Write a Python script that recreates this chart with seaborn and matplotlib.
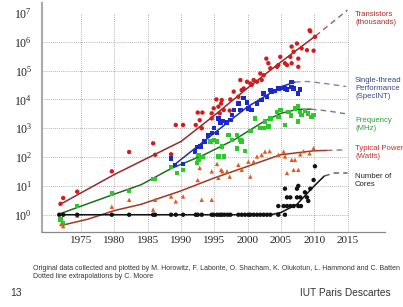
import matplotlib
matplotlib.use('Agg')
import matplotlib.pyplot as plt
import matplotlib.ticker as mticker
import seaborn as sns
import pandas as pd

# scatter data (year, value)
tr_year = [1971.9, 1972.3, 1974.4, 1979.6, 1982.2, 1985.8, 1986.1, 1988.5, 1989.2, 1990.3,
           1992.2, 1992.5, 1992.8, 1993.1, 1993.2, 1994.6, 1994.6, 1994.9, 1995.3, 1995.6,
           1995.8, 1996.0, 1996.1, 1996.4, 1997.3, 1997.4, 1997.9, 1998.6, 1998.9, 1999.1,
           1999.4, 1999.9, 2000.4, 2000.6, 2000.9, 2001.4, 2001.9, 2002.1, 2002.4, 2002.8,
           2003.1, 2003.4, 2004.4, 2004.6, 2004.9, 2005.6, 2005.9, 2006.4, 2006.6, 2006.6,
           2006.9, 2007.4, 2007.6, 2007.6, 2008.1, 2008.9, 2009.3, 2009.4, 2009.9, 2010.1]
tr_val = [2.4, 3.8, 6.3, 32, 150, 300, 120, 125, 1300, 1300,
          1300, 3500, 1900, 1000, 3500, 3300, 2200, 4900, 10000, 5600,
          3300, 7200, 9500, 4300, 4100, 10000, 18600, 12300, 47000, 21000,
          24000, 41000, 36000, 32000, 47000, 41000, 79000, 47000, 69000, 260000,
          180000, 120000, 135000, 155000, 300000, 180000, 155000, 300000, 680000, 180000,
          450000, 870000, 260000, 135000, 590000, 510000, 2500000, 2300000, 490000, 1480000]

st_year = [1988.5, 1989.1, 1990.3, 1992.1, 1992.4, 1992.9, 1993.5, 1994.0, 1994.6, 1994.9,
           1995.4, 1995.6, 1995.9, 1996.3, 1996.8, 1997.4, 1997.6, 1997.9, 1998.6, 1998.9,
           1999.4, 1999.9, 2000.1, 2000.6, 2001.4, 2002.1, 2002.4, 2002.9, 2003.4, 2003.6,
           2004.0, 2004.6, 2005.1, 2005.6, 2005.9, 2006.6, 2006.6, 2006.9, 2007.6, 2007.9]
st_val = [90, 54, 58, 155, 220, 230, 350, 560, 680, 1000,
          700, 2200, 1500, 1800, 1600, 1950, 2900, 4300, 7200, 4300,
          11000, 7900, 4900, 4300, 7200, 9500, 16000, 12300, 21000, 18600,
          20000, 24000, 25000, 24000, 22400, 41000, 27500, 24000, 16000, 22400]

fq_year = [1971.9, 1972.3, 1974.4, 1979.6, 1982.2, 1985.8, 1986.1, 1988.5, 1989.4, 1990.3,
           1992.4, 1992.6, 1992.6, 1993.2, 1994.4, 1994.9, 1995.4, 1995.6, 1996.1, 1996.4,
           1997.1, 1997.6, 1998.4, 1998.4, 1998.9, 1999.1, 1999.6, 2000.4, 2001.1, 2001.9,
           2002.4, 2002.6, 2003.1, 2003.4, 2004.4, 2004.6, 2004.9, 2005.6, 2006.1, 2006.5,
           2007.1, 2007.6, 2007.6, 2007.9, 2008.1, 2008.6, 2009.1, 2009.6, 2009.9]
fq_val = [0.68, 0.49, 2.0, 5.4, 6.8, 17, 17, 45, 28, 36,
          62, 120, 80, 100, 350, 400, 350, 105, 230, 105,
          590, 400, 590, 200, 400, 350, 160, 800, 2200, 1000,
          1000, 1700, 1150, 2200, 3700, 2500, 4300, 1300, 3700, 2800,
          4900, 5600, 1700, 3700, 2900, 4000, 3300, 2500, 2900]

pw_year = [1972.0, 1972.3, 1974.4, 1979.6, 1982.2, 1985.8, 1986.1, 1988.5, 1989.2, 1990.3,
           1992.5, 1992.8, 1993.1, 1994.6, 1994.6, 1995.4, 1995.6, 1996.0, 1996.2, 1996.9,
           1997.3, 1998.6, 1999.1, 2000.1, 2000.4, 2000.9, 2001.4, 2002.1, 2002.6, 2003.3,
           2004.6, 2005.4, 2005.6, 2005.9, 2006.6, 2006.9, 2007.1, 2007.6, 2007.9, 2008.4,
           2009.3, 2009.9]
pw_val = [0.48, 0.40, 0.93, 1.9, 3.3, 1.5, 3.3, 4.3, 2.9, 4.3,
          16, 42, 3.3, 3.3, 32, 58, 19, 36, 32, 32,
          21, 54, 36, 69, 21, 69, 105, 120, 155, 160,
          120, 155, 105, 28, 80, 36, 80, 36, 125, 160,
          135, 205]

co_year = [1971.7, 1972.3, 1974.4, 1979.6, 1982.2, 1985.8, 1986.1, 1988.5, 1989.2, 1990.3,
           1992.2, 1992.5, 1993.1, 1994.6, 1994.9, 1995.4, 1995.8, 1996.1, 1996.5, 1997.0,
           1997.4, 1998.6, 1999.1, 1999.6, 2000.1, 2000.4, 2000.9, 2001.4, 2001.9, 2002.4,
           2002.9, 2003.4, 2004.6, 2005.6, 2004.6, 2005.4, 2005.9, 2006.4, 2006.9, 2007.6,
           2008.0, 2005.9, 2006.4, 2007.4, 2007.9, 2008.9, 2008.6, 2005.6, 2007.4, 2007.6,
           2009.4, 2009.1, 2009.9, 2010.1]
co_val = [1, 1, 1, 1, 1, 1, 1, 1, 1, 1,
          1, 1, 1, 1, 1, 1, 1, 1, 1, 1,
          1, 1, 1, 1, 1, 1, 1, 1, 1, 1,
          1, 1, 1, 1, 2, 2, 2, 2, 2, 2,
          2, 4, 4, 4, 4, 4, 6, 8, 8, 10,
          8, 3, 16, 48]

# trend lines (solid fit) and dotted extrapolations, knots
tr_fit_year = [1971.7, 1980, 1990, 1995, 2000, 2005, 2010.2]
tr_fit_val = [2.2, 25, 350, 2800, 25000, 200000, 1600000]
tr_ext_year = [2010.2, 2015]
tr_ext_val = [1600000, 12600000]

st_fit_year = [1988.8, 1994, 2000, 2005, 2007.1]
st_fit_val = [50, 450, 5600, 27500, 40000]
st_ext_year = [2007.1, 2009, 2011.5, 2014.8]
st_ext_val = [40000, 42000, 36000, 28000]

fq_fit_year = [1971.9, 1980, 1984, 1988.5, 1993.6, 1998, 2002.4, 2005, 2007.4, 2009.5]
fq_fit_val = [1.1, 5.2, 11, 40, 125, 400, 1700, 3300, 4500, 4600]
fq_ext_year = [2009.5, 2012, 2014.6]
fq_ext_val = [4600, 4000, 3200]

pw_fit_year = [1971.9, 1976, 1980, 1984, 1989.8, 1994.9, 1999.9, 2004.9, 2009.9, 2011.9]
pw_fit_val = [0.42, 0.7, 1.4, 2.3, 6.5, 18.6, 47, 120, 165, 170]
pw_ext_year = [2011.9, 2014.4]
pw_ext_val = [170, 178]

co_fit_year = [1971.5, 2003.5, 2005, 2007.4, 2009.9, 2011.5]
co_fit_val = [1, 1, 1.2, 2.3, 9.5, 22]
co_ext_year = [2011.5, 2013, 2015]
co_ext_val = [22, 28, 28]

years_ticks = [1975, 1980, 1985, 1990, 1995, 2000, 2005, 2010, 2015]

point_colors = {'Transistors': '#d41a1a', 'Single-thread': '#1a28cc', 'Frequency': '#2ec82e',
                'Power': '#e2581e', 'Cores': '#111111'}
point_markers = {'Transistors': 'o', 'Single-thread': 's', 'Frequency': 's',
                 'Power': '^', 'Cores': 'o'}

pts = pd.concat([
    pd.DataFrame({'year': tr_year, 'value': tr_val, 'series': 'Transistors'}),
    pd.DataFrame({'year': st_year, 'value': st_val, 'series': 'Single-thread'}),
    pd.DataFrame({'year': fq_year, 'value': fq_val, 'series': 'Frequency'}),
    pd.DataFrame({'year': pw_year, 'value': pw_val, 'series': 'Power'}),
    pd.DataFrame({'year': co_year, 'value': co_val, 'series': 'Cores'}),
], ignore_index=True)

sns.set_style('white')
plt.rcParams['font.family'] = ['Liberation Serif', 'DejaVu Serif']
plt.rcParams['mathtext.fontset'] = 'stix'

fig = plt.figure(figsize=(4.03, 3.07), dpi=100)
ax = fig.add_axes([0.104, 0.244, 0.851, 0.746])
ax.set_yscale('log')
xlo, xhi = 1969.1, 2020.6
ylo, yhi = 0.25, 2.2e7
ax.set_xlim(xlo, xhi)
ax.set_ylim(ylo, yhi)

# dotted grid, only up to 2015 / 10^7
ax.vlines(years_ticks, ylo, 1e7, colors='#9a9a9a', linestyles=(0, (1, 1.5)), lw=0.6, zorder=0)
ax.hlines([1, 10, 100, 1e3, 1e4, 1e5, 1e6], xlo, 2015, colors='#9a9a9a',
          linestyles=(0, (1, 1.5)), lw=0.6, zorder=0)

fits = [
    (tr_fit_year, tr_fit_val, tr_ext_year, tr_ext_val, '#8a2e2e', '#a85a5a'),
    (st_fit_year, st_fit_val, st_ext_year, st_ext_val, '#1f2fa0', '#7a86b8'),
    (fq_fit_year, fq_fit_val, fq_ext_year, fq_ext_val, '#1e6e1e', '#5c8c6c'),
    (pw_fit_year, pw_fit_val, pw_ext_year, pw_ext_val, '#9c3a22', '#a86a60'),
    (co_fit_year, co_fit_val, co_ext_year, co_ext_val, '#111111', '#555555'),
]
for fy, fv, ey, ev, c1, c2 in fits:
    sns.lineplot(x=fy, y=fv, color=c1, lw=1.1, ax=ax, estimator=None, sort=False, zorder=2)
    sns.lineplot(x=ey, y=ev, color=c2, lw=1.0, ax=ax, estimator=None, sort=False,
                 linestyle=(0, (4, 3)), zorder=2)

sns.scatterplot(data=pts, x='year', y='value', hue='series', style='series',
                palette=point_colors, markers=point_markers, s=10, linewidth=0,
                legend=False, ax=ax, zorder=3)

ax.set_xlabel('')
ax.set_ylabel('')
ax.set_xticks(years_ticks)
ax.set_yticks([1, 10, 100, 1e3, 1e4, 1e5, 1e6, 1e7])
ax.yaxis.set_major_formatter(mticker.LogFormatterMathtext())
ax.yaxis.set_minor_locator(mticker.LogLocator(base=10, subs=range(2, 10), numticks=20))
ax.yaxis.set_minor_formatter(mticker.NullFormatter())
ax.tick_params(axis='x', length=0, labelsize=8, pad=3, colors='#222222')
ax.tick_params(axis='y', which='major', direction='in', length=3, color='#999999',
               labelsize=8.5, pad=7, labelcolor='#222222')
ax.tick_params(axis='y', which='minor', direction='in', length=1.5, color='#999999')
for s in ['top', 'right']:
    ax.spines[s].set_visible(False)
ax.spines['left'].set_color('#aaaaaa')
ax.spines['left'].set_linewidth(1.5)
ax.spines['bottom'].set_color('#888888')
ax.spines['bottom'].set_linewidth(0.9)

labels = [
    ('Transistors\n(thousands)', 0.965, '#b02828'),
    ('Single-thread\nPerformance\n(SpecINT)', 0.748, '#3a4688'),
    ('Frequency\n(MHz)', 0.620, '#2e9e3e'),
    ('Typical Power\n(Watts)', 0.529, '#cc2a2a'),
    ('Number of\nCores', 0.435, '#222222'),
]
for txt, yy, col in labels:
    fig.text(0.881, yy, txt, color=col, fontsize=5.6, va='top', ha='left',
             family=['Liberation Sans', 'DejaVu Sans'], linespacing=1.2)

fig.text(0.082, 0.127, 'Original data collected and plotted by M. Horowitz, F. Labonte, '
         'O. Shacham, K. Olukotun, L. Hammond and C. Batten',
         fontsize=5.0, va='center', color='#333333', family=['Liberation Sans', 'DejaVu Sans'])
fig.text(0.082, 0.098, 'Dotted line extrapolations by C. Moore',
         fontsize=5.0, va='center', color='#333333', family=['Liberation Sans', 'DejaVu Sans'])
fig.text(0.025, 0.046, '13', fontsize=7.5, va='center', color='#333333',
         family=['Liberation Sans', 'DejaVu Sans'])
fig.text(0.745, 0.046, 'IUT Paris Descartes', fontsize=7.3, va='center', color='#333333',
         family=['Liberation Sans', 'DejaVu Sans'])

fig.savefig('out.png', dpi=100)
